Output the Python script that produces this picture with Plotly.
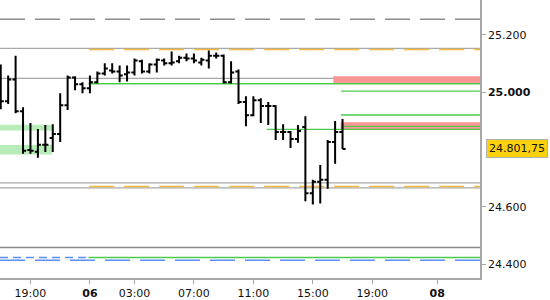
import plotly.graph_objects as go

# ---- data (30-minute OHLC bars) ----
bar_times = ["05 17:00", "05 17:30", "05 18:00", "05 18:30", "05 19:00", "05 19:30",
             "05 20:00", "05 20:30", "05 21:00", "05 21:30", "05 22:00", "05 22:30",
             "06 00:00", "06 00:30", "06 01:00", "06 01:30", "06 02:00", "06 02:30",
             "06 03:00", "06 03:30", "06 04:00", "06 04:30", "06 05:00", "06 05:30",
             "06 06:00", "06 06:30", "06 07:00", "06 07:30", "06 08:00", "06 08:30",
             "06 09:00", "06 09:30", "06 10:00", "06 10:30", "06 11:00", "06 11:30",
             "06 12:00", "06 12:30", "06 13:00", "06 13:30", "06 14:00", "06 14:30",
             "06 15:00", "06 15:30", "06 16:00", "06 16:30", "06 17:00"]
opens  = [25072, 24968, 25044, 24933, 24798, 24792, 24816, 24840, 24854, 24954, 25051, 25027,
          25013, 25034, 25065, 25075, 25072, 25062, 25068, 25107, 25072, 25096, 25110, 25100,
          25107, 25120, 25117, 25103, 25110, 25127, 25127, 25034, 25072, 24965, 24919, 24971,
          24951, 24951, 24861, 24861, 24836, 24878, 24647, 24687, 24694, 24826, 24861]
highs  = [25096, 25058, 25127, 24947, 24892, 24871, 24885, 24888, 24996, 25058, 25055, 25034,
          25058, 25072, 25100, 25100, 25093, 25093, 25117, 25113, 25100, 25117, 25117, 25141,
          25127, 25134, 25134, 25120, 25145, 25138, 25131, 25107, 25079, 24985, 24985, 24978,
          24965, 24954, 24888, 24864, 24885, 24916, 24694, 24746, 24833, 24899, 24906]
lows   = [24940, 24958, 24926, 24785, 24785, 24771, 24791, 24791, 24826, 24937, 25006, 24996,
          24996, 25030, 25058, 25065, 25034, 25037, 25058, 25065, 25065, 25068, 25093, 25093,
          25100, 25107, 25100, 25093, 25082, 25117, 25030, 25030, 24958, 24881, 24916, 24892,
          24885, 24833, 24833, 24805, 24823, 24619, 24608, 24611, 24663, 24750, 24801.75]
closes = [24968, 25044, 24933, 24795, 24795, 24816, 24816, 24854, 24954, 25051, 25027, 25013,
          25034, 25065, 25082, 25072, 25058, 25068, 25110, 25072, 25096, 25113, 25100, 25103,
          25120, 25117, 25110, 25113, 25127, 25127, 25034, 25068, 24965, 24919, 24971, 24951,
          24951, 24861, 24861, 24836, 24864, 24647, 24687, 24694, 24826, 24861, 24801.75]
last_price = 24801.75
last_label = "24.801,75"

# axis ticks
x_tick_pos = [4, 12, 18, 26, 34, 42, 50, 58.75]
x_tick_text = ["19:00", "<b>06</b>", "03:00", "07:00", "11:00", "15:00", "19:00", "<b>08</b>"]
y_tick_vals = [24400, 24600, 25000, 25200]
y_tick_text = ["24.400", "24.600", "<b>25.000</b>", "25.200"]

# horizontal levels
gray_dash_level = 25254
gray_solid_levels = [25152, 25048, 24683, 24666]
dark_gray_level = 24458
orange_dash_levels = [25148, 24671]
green_line_levels = [25029, 25003, 24920, 24880, 24870, 24423]
green_line_start = [12, 46, 46, 46, 36, 12]
red_zone_low = [25030, 24871]
red_zone_high = [25055, 24895]
red_zone_start = [45, 46]
green_zone_low = [24866, 24782]
green_zone_high = [24886, 24815]
green_zone_end = 7
blue_short_level = 24423
blue_long_level = 24413

X_MIN, X_MAX = -0.1, 64.5
Y_MIN, Y_MAX = 24351.5, 25321

xs = list(range(len(bar_times)))

fig = go.Figure()
fig.add_trace(go.Ohlc(
    x=xs, open=opens, high=highs, low=lows, close=closes,
    increasing=dict(line=dict(color="black", width=2)),
    decreasing=dict(line=dict(color="black", width=2)),
    tickwidth=0.42, hoverinfo="skip", showlegend=False))

shapes = []
def hline(y, x0, x1, color, width=1, dash="solid"):
    shapes.append(dict(type="line", xref="x", yref="y", x0=x0, x1=x1, y0=y, y1=y,
                       line=dict(color=color, width=width, dash=dash), layer="below"))

def band(y0, y1, x0, x1, color):
    shapes.append(dict(type="rect", xref="x", yref="y", x0=x0, x1=x1, y0=y0, y1=y1,
                       fillcolor=color, line=dict(width=0), layer="below"))

for lo, hi in zip(green_zone_low, green_zone_high):
    band(lo, hi, X_MIN, green_zone_end - 0.1, "#b8ecb8")

hline(gray_dash_level, X_MIN, X_MAX, "#8c8c8c", 1.5, "25px,10px")
for lv in gray_solid_levels:
    hline(lv, X_MIN, X_MAX, "#a8a8a8", 1.2)
hline(dark_gray_level, X_MIN, X_MAX, "#8a8a8a", 1.5)
for lv in orange_dash_levels:
    hline(lv, 11.9, X_MAX, "#f5b942", 1.5, "25px,10px")
hline(blue_short_level, X_MIN, 11.9, "#5b8ff9", 1.5, "8px,5px")
hline(blue_long_level, X_MIN, X_MAX, "#5b8ff9", 1.5, "25px,10px")

for lo, hi, s in zip(red_zone_low, red_zone_high, red_zone_start):
    band(lo, hi, s - 0.25, X_MAX, "#fa9696")
for lv, s in zip(green_line_levels, green_line_start):
    hline(lv, s - 0.2, X_MAX, "#4ccc4c", 1.3)

font = dict(family="DejaVu Sans", size=11, color="#111111")

fig.update_layout(
    width=550, height=300,
    margin=dict(l=0, r=70, t=0, b=20),
    paper_bgcolor="white", plot_bgcolor="white",
    shapes=shapes,
    font=font,
    showlegend=False,
    xaxis=dict(range=[X_MIN, X_MAX], rangeslider=dict(visible=False),
               tickmode="array", tickvals=x_tick_pos, ticktext=x_tick_text,
               ticks="outside", ticklen=4, tickcolor="#a8a8a8",
               showline=True, linecolor="#a8a8a8", linewidth=1.5,
               showgrid=False, zeroline=False, fixedrange=True),
    yaxis=dict(range=[Y_MIN, Y_MAX], side="right",
               tickmode="array", tickvals=y_tick_vals, ticktext=y_tick_text,
               ticks="outside", ticklen=4, tickcolor="#a8a8a8",
               showline=True, linecolor="#a8a8a8", linewidth=1.5,
               showgrid=False, zeroline=False, fixedrange=True),
    annotations=[dict(xref="paper", yref="y", x=1, y=last_price, xanchor="left",
                      yanchor="middle", xshift=6, text=last_label, showarrow=False,
                      bgcolor="#fcd20f", bordercolor="#b0b0b0", borderwidth=1,
                      borderpad=2, font=dict(family="DejaVu Sans", size=11, color="#111111"))],
)

fig.write_html("out.html", config={"displayModeBar": False})
